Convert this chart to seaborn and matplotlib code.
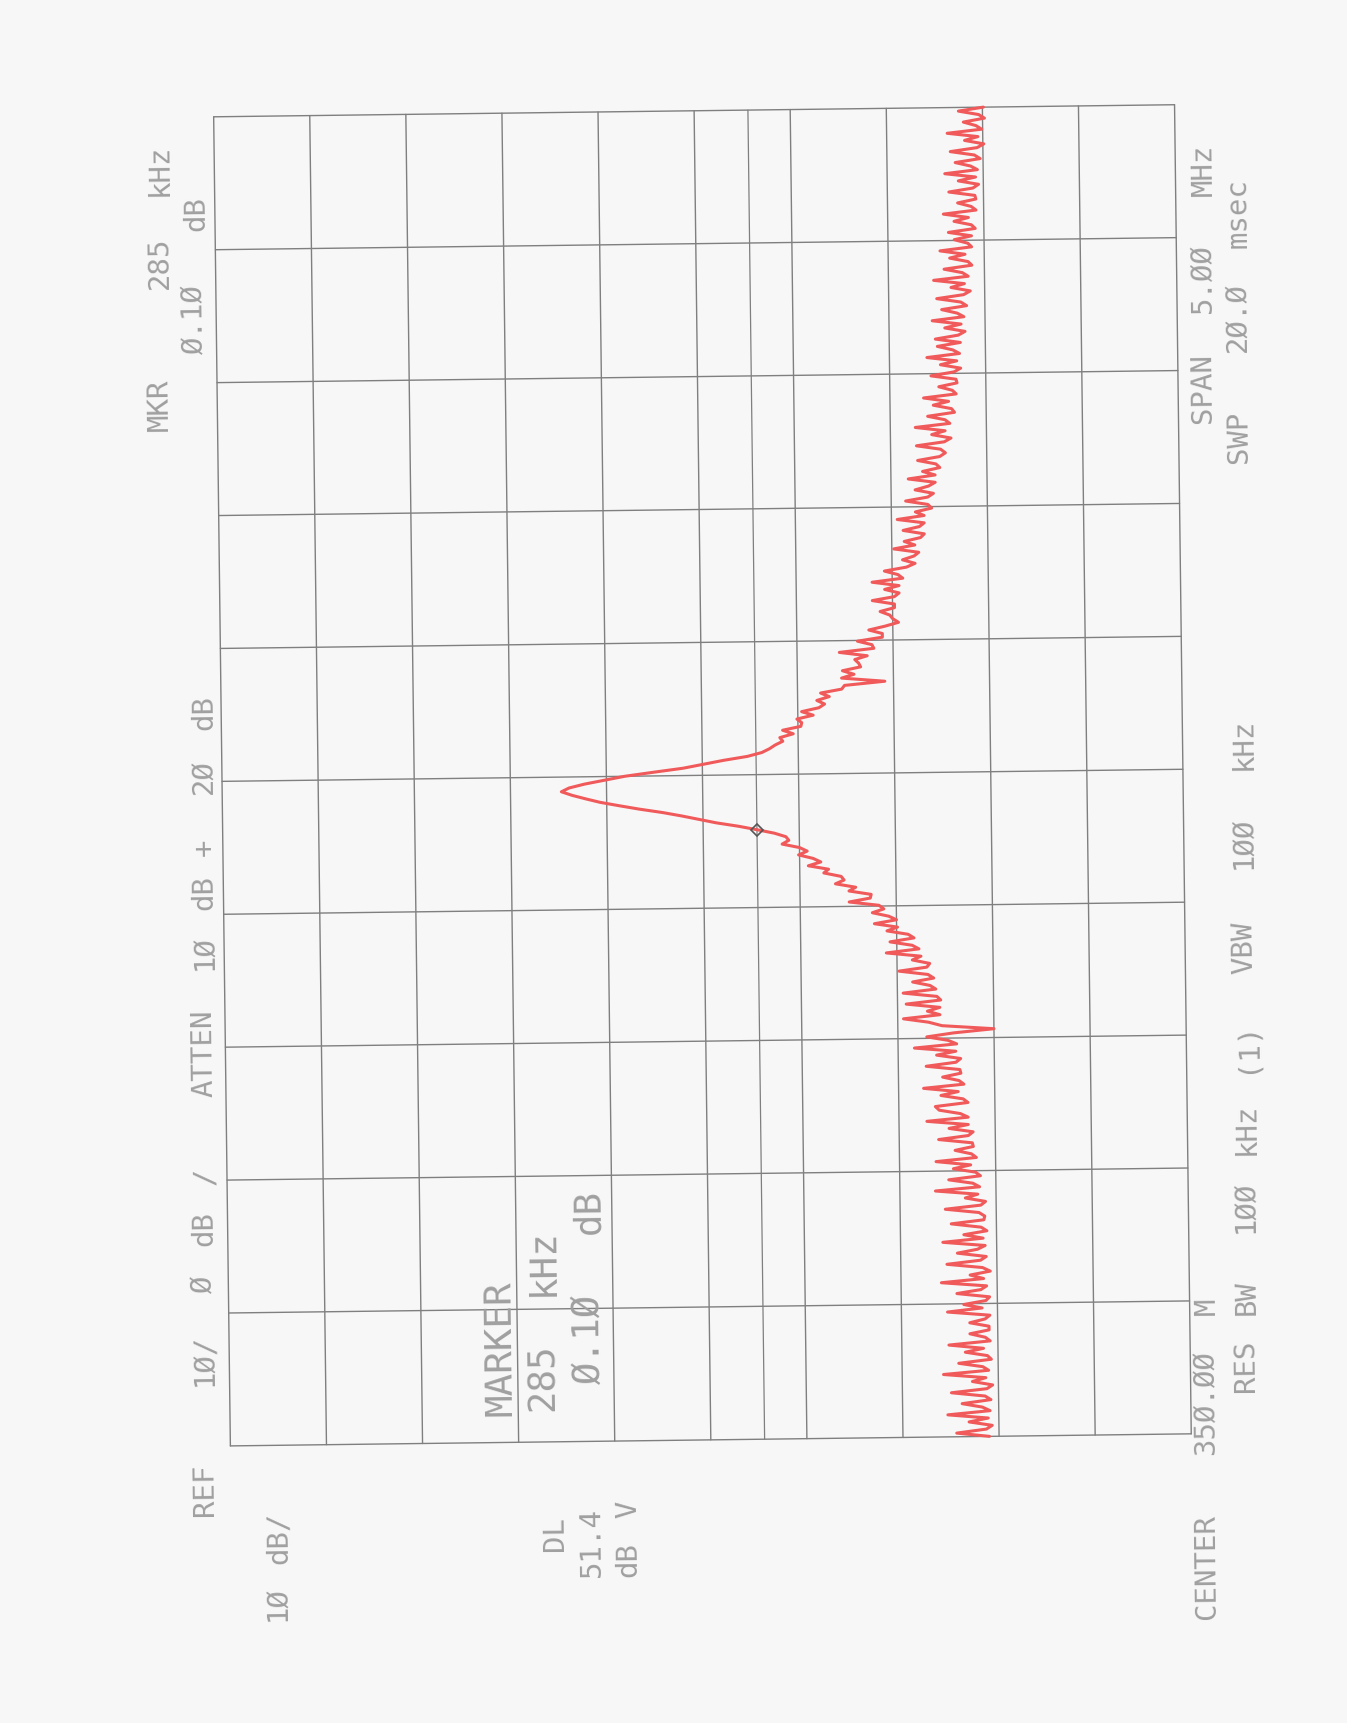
import numpy as np
import pandas as pd
import matplotlib
matplotlib.use("Agg")
import matplotlib.pyplot as plt
import seaborn as sns
from matplotlib.transforms import Affine2D

# ---------------- data ----------------
span_start_mhz = 347.5
span_stop_mhz = 352.5
ref_db = 0.0
bottom_db = -100.0
db_per_div = 10.0
mhz_per_div = 0.5

trace_db = [
    -79.0, -75.6, -78.7, -79.3, -76.9, -78.9, -74.7, -79.1, -78.3, -76.2,
    -79.2, -78.6, -75.1, -78.8, -79.4, -77.3, -78.7, -74.3, -79.0, -78.4,
    -75.9, -79.3, -78.9, -76.6, -78.5, -74.9, -79.2, -78.7, -77.1, -79.1,
    -79.1, -77.1, -78.7, -79.2, -74.8, -78.4, -76.5, -78.8, -79.2, -75.8,
    -78.3, -78.9, -74.2, -78.6, -77.2, -79.3, -78.5, -74.8, -78.3, -78.9,
    -75.9, -78.0, -78.8, -74.4, -78.6, -76.6, -79.0, -78.4, -75.3, -78.7,
    -78.8, -78.2, -74.7, -78.4, -78.9, -76.8, -78.1, -73.7, -78.3, -77.6,
    -75.1, -78.4, -77.9, -75.6, -77.4, -73.8, -78.0, -77.5, -75.8, -77.7,
    -77.6, -74.1, -77.2, -77.7, -75.2, -77.2, -72.9, -77.2, -76.4, -74.2,
    -73.8, -77.2, -76.7, -74.4, -76.2, -72.6, -76.8, -76.3, -74.6, -76.5,
    -76.4, -72.9, -76.0, -76.5, -74.0, -76.0, -71.7, -76.1, -75.2, -73.0,
    -75.8, -80.0, -74.6, -73.2, -70.6, -74.4, -73.1, -74.4, -70.9, -74.5,
    -74.1, -70.6, -74.0, -73.4, -71.6, -73.8, -73.2, -70.2, -73.1, -73.4,
    -71.6, -72.5, -68.9, -72.3, -71.6, -69.3, -71.8, -71.2, -69.0, -70.1,
    -67.7, -70.0, -69.2, -67.5, -68.7, -68.2, -65.1, -67.3, -67.4, -65.1,
    -65.8, -63.7, -64.6, -64.3, -62.5, -63.0, -60.9, -62.2, -61.4, -59.9,
    -60.8, -60.0, -58.2, -58.9, -58.6, -57.4, -55.6, -53.7, -51.4, -49.6,
    -47.8, -45.8, -43.4, -41.3, -39.3, -37.8, -36.4, -35.3, -36.1, -37.7,
    -39.8, -41.9, -44.9, -48.0, -50.1, -52.2, -54.7, -56.2, -57.0, -57.6,
    -58.4, -58.1, -59.5, -58.4, -60.3, -60.4, -59.9, -61.6, -60.4, -62.2,
    -62.8, -62.0, -63.3, -62.4, -64.6, -64.9, -69.1, -64.6, -65.9, -64.7,
    -66.6, -66.4, -66.0, -67.3, -64.4, -68.0, -67.8, -66.3, -68.9, -68.9,
    -67.5, -69.2, -70.6, -70.0, -69.7, -68.7, -70.2, -70.2, -67.9, -70.2,
    -70.7, -69.2, -70.7, -67.9, -71.1, -70.6, -69.2, -71.5, -72.4, -71.1,
    -72.3, -72.8, -70.2, -72.4, -71.3, -73.0, -73.4, -71.2, -72.9, -73.4,
    -70.6, -73.4, -72.5, -74.2, -73.8, -71.5, -73.8, -74.4, -72.5, -73.9,
    -74.6, -71.8, -74.6, -73.3, -75.1, -74.7, -72.8, -75.1, -75.7, -75.2,
    -72.7, -75.6, -76.3, -74.3, -75.7, -72.6, -76.2, -75.7, -73.9, -76.7,
    -76.4, -74.5, -76.1, -73.5, -76.9, -76.5, -75.1, -77.0, -76.9, -74.3,
    -76.7, -77.4, -75.3, -77.0, -73.9, -77.3, -76.6, -75.0, -77.4, -74.8,
    -77.2, -77.9, -75.8, -77.5, -74.5, -77.8, -77.1, -75.5, -78.1, -77.5,
    -75.0, -77.8, -78.5, -76.5, -77.9, -74.7, -78.3, -77.7, -75.8, -78.7,
    -78.3, -76.4, -78.0, -75.4, -78.7, -78.3, -76.9, -78.7, -76.3, -79.1,
    -78.7, -76.9, -78.4, -75.8, -79.2, -78.7, -77.3, -79.2, -79.1, -76.4,
    -78.9, -79.5, -77.4, -79.2, -76.0, -79.4, -78.7, -77.1, -79.7, -79.1,
    -76.6, -79.4, -80.1, -78.1, -79.5, -76.3, -79.9, -79.3, -78.0, -80.2,
    -79.6, -77.5, -80.1,
]
marker_index = 166          # delta marker position on the trace
display_line_db = -55.6     # DL 51.4 dB V display line

# ---------------- style ----------------
PAGE = "#f7f7f8"
GRID = "#7f7f7f"
TRACE = "#f05a5a"
TXT = "#a0a0a0"
W, H = 1347, 1724
S = 1.1          # layout scale (layout numbers below are in 1224x1568 units)
TILT = 0.72      # scanned sheet tilt in degrees

sns.set_theme(style="white")
plt.rcParams["font.family"] = ["DejaVu Sans Mono", "DejaVu Sans"]

fig = plt.figure(figsize=(W / 100, H / 100), dpi=100, facecolor=PAGE)
ax_rect = [0.1648, 0.1642, 0.7134, 0.771]
ax = fig.add_axes(ax_rect)
ax.set_facecolor("none")

freq = np.linspace(span_start_mhz, span_stop_mhz, len(trace_db))
df = pd.DataFrame({"freq": freq, "amp": trace_db})

# graticule
amp_lines = np.arange(ref_db, bottom_db - 0.1, -db_per_div)
freq_lines = np.arange(span_start_mhz, span_stop_mhz + 0.01, mhz_per_div)
for a in amp_lines:
    ax.plot([a, a], [span_start_mhz, span_stop_mhz], color=GRID, lw=1.0)
for f in freq_lines:
    ax.plot([ref_db, bottom_db], [f, f], color=GRID, lw=1.0)
ax.plot([display_line_db, display_line_db], [span_start_mhz, span_stop_mhz],
        color=GRID, lw=0.9)

sns.lineplot(data=df, x="amp", y="freq", orient="y", sort=False,
             estimator=None, color=TRACE, lw=2.2, ax=ax)

ax.plot([trace_db[marker_index]], [freq[marker_index]], marker="D", ms=6,
        mfc="none", mec="#555555", mew=1.2, ls="none")

ax.set_xlim(ref_db, bottom_db)
ax.set_ylim(span_start_mhz, span_stop_mhz)
ax.axis("off")

# tilt of the scanned sheet
cx = (ax_rect[0] + ax_rect[2] / 2) * W
cy = (ax_rect[1] + ax_rect[3] / 2) * H
rot = Affine2D().rotate_deg_around(cx, cy, TILT)
for ln in ax.lines:
    ln.set_transform(ln.get_transform() + rot)
    ln.set_clip_on(False)

# ---------------- text (rotated plotter annotations) ----------------
def put(word, xp, yp, size=21):
    fig.text(xp * S / W, 1 - yp * S / H, word, rotation=90 + TILT,
             rotation_mode="anchor", ha="left", va="center",
             fontsize=size, color=TXT)

header = [("REF", 1378), ("1Ø/", 1260), ("Ø", 1176), ("dB", 1133), ("/", 1077),
          ("ATTEN", 997), ("1Ø", 882), ("dB", 827), ("+", 778), ("2Ø", 722), ("dB", 664)]
for w_, y_ in header:
    put(w_, 186, y_)

for w_, y_ in [("MKR", 392), ("285", 263), ("kHz", 178)]:
    put(w_, 145, y_)
for w_, y_ in [("Ø.1Ø", 322), ("dB", 210)]:
    put(w_, 178, y_)

for w_, y_ in [("1Ø", 1474), ("dB/", 1422)]:
    put(w_, 253, y_)
put("DL", 505, 1410)
put("51.4", 538, 1434)
for w_, y_ in [("dB", 1434), ("V", 1380)]:
    put(w_, 571, y_)

put("MARKER", 456, 1287, 27)
for w_, y_ in [("285", 1283), ("kHz", 1178)]:
    put(w_, 494, y_, 27)
for w_, y_ in [("Ø.1Ø", 1258), ("dB", 1122)]:
    put(w_, 536, y_, 27)

for w_, y_ in [("SPAN", 385), ("5.ØØ", 285), ("MHz", 178)]:
    put(w_, 1094, y_)
for w_, y_ in [("SWP", 421), ("2Ø.Ø", 320), ("msec", 226)]:
    put(w_, 1126, y_)
for w_, y_ in [("VBW", 886), ("1ØØ", 790), ("kHz", 700)]:
    put(w_, 1131, y_)
for w_, y_ in [("RES", 1266), ("BW", 1196), ("1ØØ", 1121), ("kHz", 1050), ("(1)", 976)]:
    put(w_, 1133, y_)
for w_, y_ in [("CENTER", 1472), ("35Ø.ØØ", 1323), ("M", 1196)]:
    put(w_, 1097, y_)

fig.savefig("out.png", dpi=100, facecolor=PAGE)
